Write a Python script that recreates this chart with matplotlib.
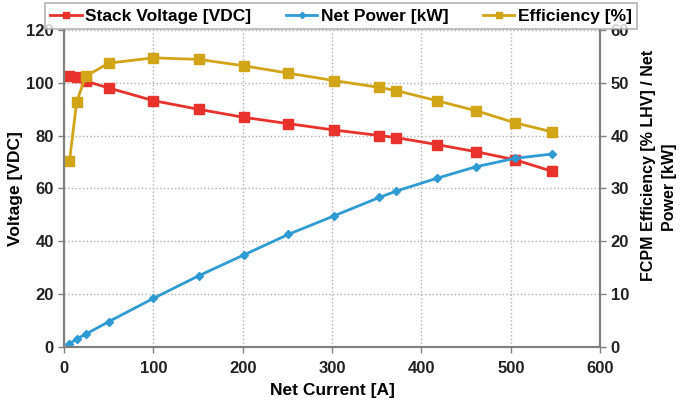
"""Stack voltage, net power and efficiency vs. net current."""

import matplotlib
matplotlib.use("Agg")
import matplotlib.pyplot as plt

plt.rcParams['font.family'] = ['Liberation Sans', 'DejaVu Sans']
plt.rcParams['font.weight'] = 'bold'

# data
current = [6, 14, 24, 50, 100, 151, 201, 251, 302, 353, 372, 417, 461, 505, 546]
voltage = [102.6, 102.1, 100.6, 98.0, 93.2, 89.9, 86.9, 84.5, 82.1,
           80.0, 79.2, 76.6, 73.9, 70.8, 66.5]
power = [0.6, 1.5, 2.4, 4.8, 9.2, 13.5, 17.4, 21.3, 24.8,
         28.3, 29.5, 31.9, 34.1, 35.7, 36.5]
efficiency = [35.1, 46.3, 51.2, 53.7, 54.7, 54.4, 53.2, 51.8, 50.4,
              49.1, 48.5, 46.6, 44.7, 42.4, 40.7]
right_label = ['FCPM Efficiency [% LHV] / Net', 'Power [kW]']

RED = '#e8322b'
BLUE = '#2e9bd3'
GOLD = '#d2a418'
GRAY = '#808080'

fig = plt.figure(figsize=(6.82, 4.03), dpi=100)
ax = fig.add_axes([0.094, 0.139, 0.786, 0.787])
ax2 = ax.twinx()

l1, = ax.plot(current, voltage, color=RED, lw=2, marker='s', ms=7,
              label='Stack Voltage [VDC]')
l2, = ax2.plot(current, power, color=BLUE, lw=2, marker='D', ms=4.5,
               label='Net Power [kW]')
l3, = ax2.plot(current, efficiency, color=GOLD, lw=2, marker='s', ms=7,
               label='Efficiency [%]')

ax.set_xlim(0, 600)
ax.set_ylim(0, 120)
ax2.set_ylim(0, 60)
ax.set_xticks(range(0, 601, 100))
ax.set_yticks(range(0, 121, 20))
ax2.set_yticks(range(0, 61, 10))

ax.grid(True, color='#b0b0b0', linestyle=':', lw=1)
ax.set_axisbelow(True)

for a in (ax, ax2):
    a.spines['top'].set_visible(False)
    for side in ('left', 'right', 'bottom'):
        a.spines[side].set_color(GRAY)
        a.spines[side].set_linewidth(1.5)
    a.tick_params(labelsize=12, labelcolor='#222222', color=GRAY,
                  length=4, width=1, direction='out')
ax.tick_params(axis='x', pad=6)

ax.set_xlabel('Net Current [A]', fontsize=12.5, fontweight='bold', labelpad=5)
ax.set_ylabel('Voltage [VDC]', fontsize=12.5, fontweight='bold', labelpad=2)
# right-hand label, two lines, second one sits a bit lower as in the original
fig.text(0.951, 0.59, right_label[0], rotation=90, ha='center', va='center',
         fontsize=11.5, fontweight='bold')
fig.text(0.982, 0.535, right_label[1], rotation=90, ha='center', va='center',
         fontsize=11.5, fontweight='bold')

leg = fig.legend(handles=[l1, l2, l3], loc='center',
                 bbox_to_anchor=(0.5, 0.96), ncol=3, fontsize=12.5,
                 frameon=True, fancybox=False, edgecolor='#a0a0a0',
                 handlelength=1.8, handletextpad=0.2, columnspacing=2.0,
                 borderpad=0.3, markerscale=0.7)
leg.get_frame().set_linewidth(1.2)

fig.savefig('out.png', dpi=100)
plt.close(fig)
